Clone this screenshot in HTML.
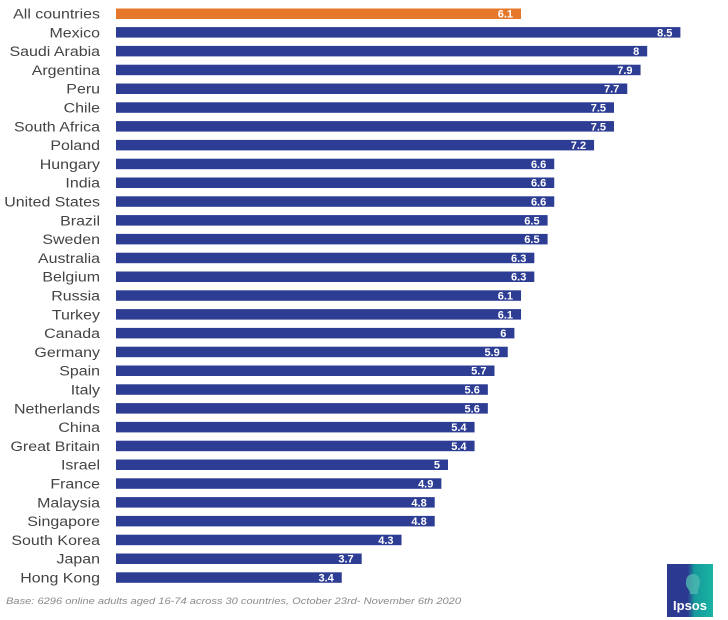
<!DOCTYPE html>
<html><head><meta charset="utf-8"><style>
html,body{margin:0;padding:0;background:#fff;}
svg{display:block;}
.l{font-family:"Liberation Sans",Arial,sans-serif;font-size:14px;fill:#444;}
.v{font-family:"Liberation Sans",Arial,sans-serif;font-size:11px;fill:#fff;font-weight:bold;}
</style></head><body>
<svg width="728" height="620" viewBox="0 0 728 620" xmlns="http://www.w3.org/2000/svg">
<rect width="728" height="620" fill="#fff"/>
<g id="rows"></g>
<text x="6" y="604" font-family="Liberation Sans, Arial, sans-serif" font-size="9.6" font-style="italic" fill="#8a8a8a" textLength="455" lengthAdjust="spacingAndGlyphs">Base: 6296 online adults aged 16-74 across 30 countries, October 23rd- November 6th 2020</text>
<defs>
<linearGradient id="lg" x1="0" y1="0" x2="1" y2="0">
<stop offset="0" stop-color="#2b3990"/><stop offset="0.45" stop-color="#2b3990"/><stop offset="0.6" stop-color="#169a9c"/><stop offset="1" stop-color="#19b3a3"/>
</linearGradient>
</defs>
<rect x="667" y="564" width="46" height="53" fill="url(#lg)"/>
<path d="M688 576 c5 -4 12 -2 12 6 c0 5 -3 8 -2 12 l-8 0 c1 -4 -5 -6 -4 -12 c0 -3 1 -5 2 -6z" fill="#4db8b0" opacity="0.8"/>
<text x="690" y="610" text-anchor="middle" font-family="Liberation Sans, Arial, sans-serif" font-size="13" font-weight="bold" fill="#fff">Ipsos</text>
<g>
<text class="l" transform="translate(100,18.5) scale(1.14,1)" text-anchor="end">All countries</text>
<rect x="116" y="8.5" width="405" height="10.5" fill="#e5782a"/>
<text class="v" x="513" y="17.5" text-anchor="end">6.1</text>
</g>
</svg>
<script>
var data=[["Mexico",8.5],["Saudi Arabia",8],["Argentina",7.9],["Peru",7.7],["Chile",7.5],["South Africa",7.5],["Poland",7.2],["Hungary",6.6],["India",6.6],["United States",6.6],["Brazil",6.5],["Sweden",6.5],["Australia",6.3],["Belgium",6.3],["Russia",6.1],["Turkey",6.1],["Canada",6],["Germany",5.9],["Spain",5.7],["Italy",5.6],["Netherlands",5.6],["China",5.4],["Great Britain",5.4],["Israel",5],["France",4.9],["Malaysia",4.8],["Singapore",4.8],["South Korea",4.3],["Japan",3.7],["Hong Kong",3.4]];
var g=document.getElementById("rows"),s="";
for(var i=0;i<data.length;i++){var c=13.5+(i+1)*18.8;var w=data[i][1]*66.4;
s+='<text class="l" transform="translate(100,'+(c+5)+') scale(1.14,1)" text-anchor="end">'+data[i][0]+'</text>';
s+='<rect x="116" y="'+(c-5.2)+'" width="'+w+'" height="10.5" fill="#2d3d94"/>';
s+='<text class="v" x="'+(116+w-8)+'" y="'+(c+4)+'" text-anchor="end">'+data[i][1]+'</text>';}
g.innerHTML=s;
</script>
</body></html>
